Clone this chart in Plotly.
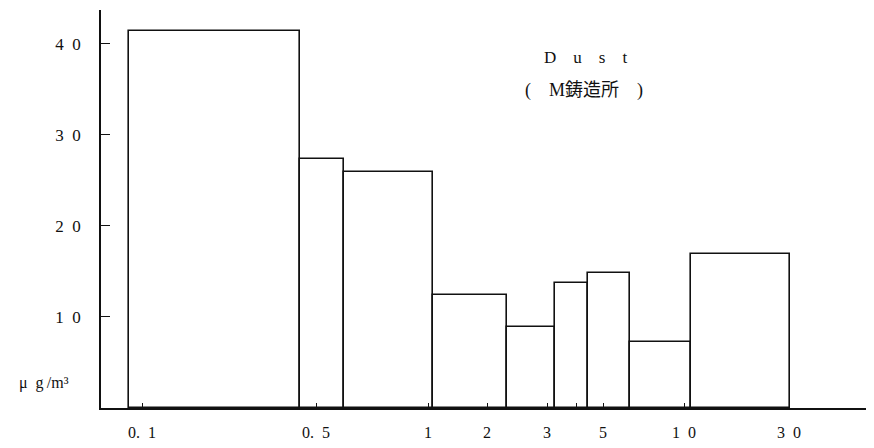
import plotly.graph_objects as go

# Particle size classes (µm) — positions on the original non-uniform size axis
bin_left = [28, 199, 243, 332, 406, 454, 487, 529, 590]
bin_right = [199, 243, 332, 406, 454, 487, 529, 590, 689]
conc = [41.4, 27.3, 25.9, 12.4, 8.9, 13.7, 14.8, 7.3, 16.9]

tick_pos = [41, 215, 327, 386, 446, 475, 502, 583, 688]
tick_text = ["0.\u20021", "0.\u20025", "1", "2", "3", "", "5", "1\u20020", "3\u20020"]

y_ticks = [10, 20, 30, 40]
y_text = ["1\u20020", "2\u20020", "3\u20020", "4\u20020"]

centers = [(a + b) / 2 for a, b in zip(bin_left, bin_right)]
widths = [b - a for a, b in zip(bin_left, bin_right)]

serif = "Liberation Serif, DejaVu Serif, Noto Sans CJK JP, serif"

# page body has an 8px margin; plot area spans page x 101..874, y 10..408
W, H = 866, 432
L, T, B, R = 93, 2, 32, 0
pw, ph = W - L - R, H - T - B


def px(x):
    return (x - 8 - L) / pw


def py(y):
    return (H - B - (y - 8)) / ph


fig = go.Figure()
fig.add_trace(go.Bar(
    x=centers, y=conc, width=widths, base=0,
    marker=dict(color="white", line=dict(color="#111", width=1.6)),
    showlegend=False,
))

fig.update_layout(
    width=W, height=H,
    margin=dict(l=L, r=R, t=T, b=B, autoexpand=False),
    paper_bgcolor="white", plot_bgcolor="white",
    bargap=0,
    font=dict(family=serif, color="#111", size=15),
    xaxis=dict(
        range=[0, 773], tickmode="array", tickvals=tick_pos, ticktext=tick_text,
        ticks="inside", ticklen=5, tickwidth=1.2, tickcolor="#111",
        showline=True, linecolor="#111", linewidth=1.8,
        showgrid=False, zeroline=False, ticklabelstandoff=9,
        tickfont=dict(size=16, family=serif),
    ),
    yaxis=dict(
        range=[0, 43.7], tickmode="array", tickvals=y_ticks, ticktext=y_text,
        ticks="inside", ticklen=9, tickwidth=1.2, tickcolor="#111",
        showline=True, linecolor="#111", linewidth=1.6,
        showgrid=False, zeroline=False, ticklabelstandoff=15,
        tickfont=dict(size=17, family=serif),
    ),
    annotations=[
        dict(text="D\u2003u\u2003s\u2003t", xref="paper", yref="paper", x=px(585), y=py(58),
             showarrow=False, font=dict(size=17, family=serif), xanchor="center", yanchor="middle"),
        dict(text="(\u2003M鋳造所\u2003)", xref="paper", yref="paper", x=px(584), y=py(90),
             showarrow=False, font=dict(size=18, family=serif), xanchor="center", yanchor="middle"),
        dict(text="μ\u2002g\u2009/m³", xref="paper", yref="paper", x=px(44), y=py(383),
             showarrow=False, font=dict(size=16, family=serif), xanchor="center", yanchor="middle"),
    ],
)

fig.write_html("out.html")
